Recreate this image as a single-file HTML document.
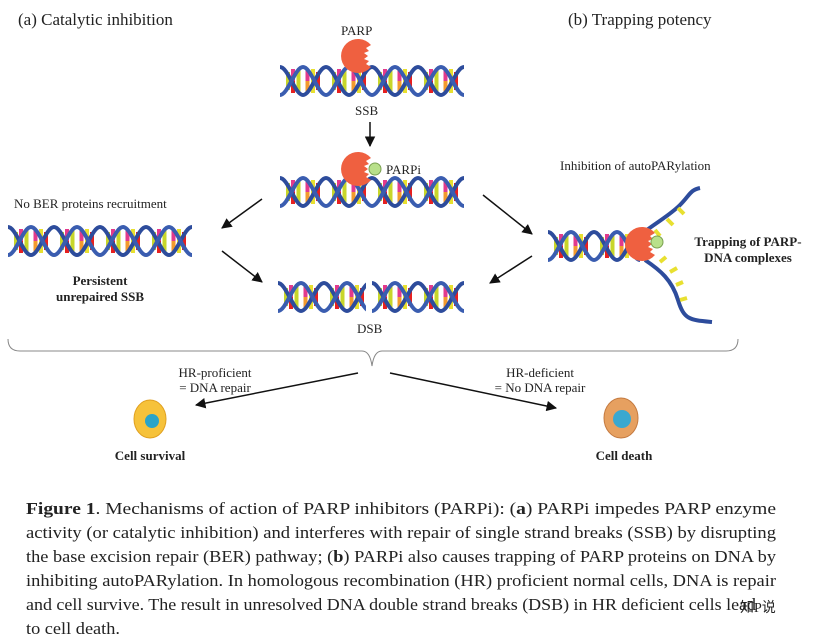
<!DOCTYPE html>
<html><head><meta charset="utf-8"><style>
html,body{margin:0;padding:0;background:#fff}
svg{display:block}
text{font-family:"Liberation Serif",serif;fill:#222}
</style></head><body>
<svg width="836" height="641" viewBox="0 0 836 641" xmlns="http://www.w3.org/2000/svg">
<defs>
<symbol id="u" viewBox="0 0 46 32" width="46" height="32" overflow="visible">
<rect x="6" y="7" width="4" height="18" fill="#c8d62a"/>
<rect x="11" y="4" width="4" height="24" fill="#e23a8c"/>
<rect x="11" y="16" width="4" height="12" fill="#e62020"/>
<rect x="16.5" y="5" width="4" height="22" fill="#c8d62a"/>
<rect x="25.5" y="5" width="4" height="22" fill="#e23a8c"/>
<rect x="25.5" y="16" width="4" height="11" fill="#f29a2e"/>
<rect x="31" y="4" width="4" height="24" fill="#e8e030"/>
<rect x="36" y="7" width="4" height="18" fill="#e62020"/>
<path d="M0 2 C8 2 15 30 23 30 S38 2 46 2" fill="none" stroke="#2d4c9c" stroke-width="4"/>
<path d="M0 30 C8 30 15 2 23 2 S38 30 46 30" fill="none" stroke="#3a5db0" stroke-width="4"/>
</symbol>
<symbol id="e" viewBox="-18 -18 36 36" width="36" height="36" overflow="visible">
<path d="M13 -11 A17 17 0 1 0 13 11 L8 8 L11 5 L6 3 L10 0 L6 -3 L11 -5 L8 -8 Z" fill="#ef6040"/>
</symbol>
<marker id="a" viewBox="0 0 10 10" refX="9" refY="5" markerWidth="7" markerHeight="7" orient="auto"><path d="M0 0L10 5L0 10z" fill="#111"/></marker>
</defs>
<text x="18" y="25" font-size="17">(a) Catalytic inhibition</text>
<text x="568" y="25" font-size="17">(b) Trapping potency</text>
<text x="341" y="35" font-size="13">PARP</text>
<g transform="translate(280,65)"><use href="#u" x="0"/><use href="#u" x="46"/><use href="#u" x="92"/><use href="#u" x="138"/></g>
<use href="#e" x="340" y="38"/>
<text x="355" y="115" font-size="13">SSB</text>
<line x1="370" y1="122" x2="370" y2="146" stroke="#111" stroke-width="1.5" marker-end="url(#a)"/>
<g transform="translate(280,176)"><use href="#u" x="0"/><use href="#u" x="46"/><use href="#u" x="92"/><use href="#u" x="138"/></g>
<use href="#e" x="340" y="151"/>
<circle cx="375" cy="169" r="6" fill="#b8e08a" stroke="#7aa050"/>
<text x="386" y="174" font-size="13">PARPi</text>
<text x="14" y="208" font-size="13">No BER proteins recruitment</text>
<g transform="translate(8,225)"><use href="#u" x="0"/><use href="#u" x="46"/><use href="#u" x="92"/><use href="#u" x="138"/></g>
<text x="100" y="285" font-size="13" font-weight="bold" text-anchor="middle">Persistent</text>
<text x="100" y="301" font-size="13" font-weight="bold" text-anchor="middle">unrepaired SSB</text>
<g transform="translate(278,281)"><use href="#u" x="0"/><use href="#u" x="46"/><rect x="88" y="0" width="6" height="32" fill="#fff"/><use href="#u" x="94"/><use href="#u" x="140"/></g>
<text x="357" y="333" font-size="13">DSB</text>
<line x1="262" y1="199" x2="222" y2="228" stroke="#111" stroke-width="1.5" marker-end="url(#a)"/>
<line x1="222" y1="251" x2="262" y2="282" stroke="#111" stroke-width="1.5" marker-end="url(#a)"/>
<line x1="483" y1="195" x2="532" y2="234" stroke="#111" stroke-width="1.5" marker-end="url(#a)"/>
<line x1="532" y1="256" x2="490" y2="283" stroke="#111" stroke-width="1.5" marker-end="url(#a)"/>
<text x="560" y="170" font-size="13">Inhibition of autoPARylation</text>
<g transform="translate(548,230)"><use href="#u" x="0"/><use href="#u" x="46"/></g>
<path d="M640 235 C660 220 670 215 680 205 S690 190 700 188 M645 260 C660 270 672 280 678 300 S690 320 712 322" fill="none" stroke="#2d4c9c" stroke-width="4"/>
<path d="M655 230 l5 6 M667 219 l6 6 M678 208 l6 6 M660 262 l6 -5 M670 272 l7 -4 M676 285 l7 -3 M680 300 l7 -2" stroke="#e8e030" stroke-width="4"/>
<use href="#e" x="624" y="226"/>
<circle cx="657" cy="242" r="6" fill="#b8e08a" stroke="#7aa050"/>
<text x="748" y="246" font-size="13" font-weight="bold" text-anchor="middle">Trapping of PARP-</text>
<text x="748" y="262" font-size="13" font-weight="bold" text-anchor="middle">DNA complexes</text>
<path d="M8 339 Q8 351 20 351 L362 351 Q370 351 372 366 Q374 351 382 351 L726 351 Q738 351 738 339" fill="none" stroke="#888" stroke-width="1"/>
<text x="215" y="377" font-size="13" text-anchor="middle">HR-proficient</text>
<text x="215" y="392" font-size="13" text-anchor="middle">= DNA repair</text>
<text x="540" y="377" font-size="13" text-anchor="middle">HR-deficient</text>
<text x="540" y="392" font-size="13" text-anchor="middle">= No DNA repair</text>
<line x1="358" y1="373" x2="196" y2="405" stroke="#111" stroke-width="1.5" marker-end="url(#a)"/>
<line x1="390" y1="373" x2="556" y2="408" stroke="#111" stroke-width="1.5" marker-end="url(#a)"/>
<ellipse cx="150" cy="419" rx="16" ry="19" fill="#f6c23a" stroke="#e0a020"/>
<circle cx="152" cy="421" r="7" fill="#2aa4c8"/>
<ellipse cx="621" cy="418" rx="17" ry="20" fill="#e6a060" stroke="#c47a40"/>
<circle cx="622" cy="419" r="9" fill="#3aa8d0"/>
<text x="150" y="460" font-size="13" font-weight="bold" text-anchor="middle">Cell survival</text>
<text x="624" y="460" font-size="13" font-weight="bold" text-anchor="middle">Cell death</text>
<g font-size="16.5">
<text x="26" y="514" textLength="750" lengthAdjust="spacingAndGlyphs"><tspan font-weight="bold">Figure 1</tspan>. Mechanisms of action of PARP inhibitors (PARPi): (<tspan font-weight="bold">a</tspan>) PARPi impedes PARP enzyme</text>
<text x="26" y="538" textLength="750" lengthAdjust="spacingAndGlyphs">activity (or catalytic inhibition) and interferes with repair of single strand breaks (SSB) by disrupting</text>
<text x="26" y="562" textLength="750" lengthAdjust="spacingAndGlyphs">the base excision repair (BER) pathway; (<tspan font-weight="bold">b</tspan>) PARPi also causes trapping of PARP proteins on DNA by</text>
<text x="26" y="586" textLength="750" lengthAdjust="spacingAndGlyphs">inhibiting autoPARylation. In homologous recombination (HR) proficient normal cells, DNA is repair</text>
<text x="26" y="610" textLength="730" lengthAdjust="spacingAndGlyphs">and cell survive. The result in unresolved DNA double strand breaks (DSB) in HR deficient cells lead</text>
<text x="26" y="634" textLength="94" lengthAdjust="spacingAndGlyphs">to cell death.</text>
</g>
<text x="740" y="612" font-size="14" fill="#999">知P说</text>
</svg>
</body></html>
